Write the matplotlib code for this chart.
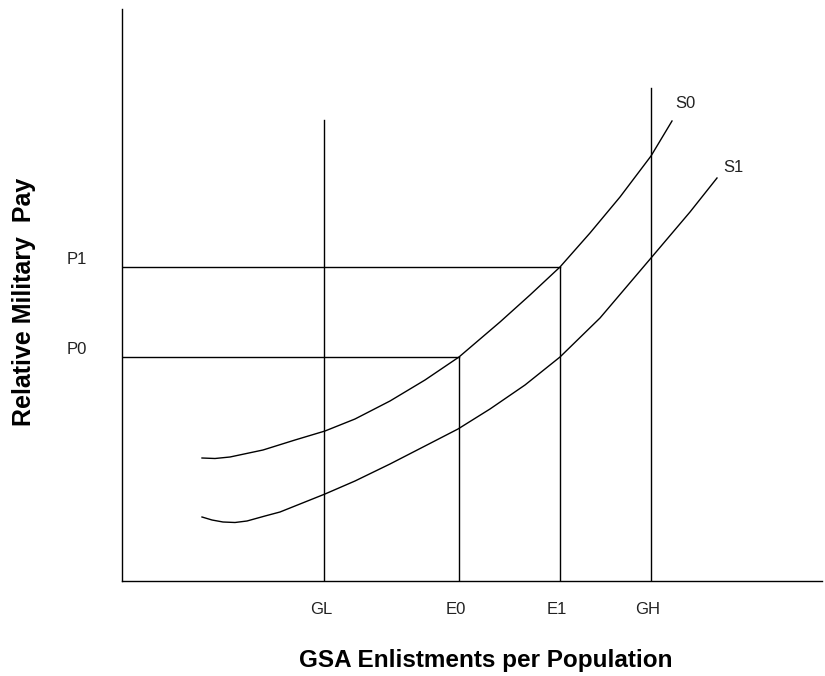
import matplotlib
matplotlib.use("Agg")
import matplotlib.pyplot as plt

plt.rcParams["font.family"] = ["Liberation Sans", "DejaVu Sans"]

# supply curves (x = enlistments, y = relative pay), arbitrary units
s0_x = [80, 93, 108, 141, 173, 203, 233, 268, 303, 337, 378, 408, 438, 468, 498, 529, 550]
s0_y = [123, 122.5, 124, 131, 141, 150, 162, 180, 201, 224, 259, 286, 314, 348, 384, 425, 460]
s1_x = [80, 90, 101, 113, 125, 143, 158, 178, 203, 233, 268, 303, 336, 368, 403, 438, 478, 529, 568, 595]
s1_y = [64, 61, 59, 58.5, 60, 65, 69, 77, 87, 100, 117, 135, 152, 172, 196, 224, 263, 323, 369, 403]

# reference levels
vlines_x = [202, 337, 438, 529]
vlines_top = [461, 224, 314, 493]
x_labels = ["GL", "E0", "E1", "GH"]
p_levels = [314, 224]
p_ends = [438, 337]
p_labels = ["P1", "P0"]

fig = plt.figure(figsize=(8.25, 6.76), dpi=100)
ax = fig.add_axes([122 / 825, 95 / 676, 700 / 825, 572 / 676])
ax.set_xlim(0, 700)
ax.set_ylim(0, 572)

ax.plot(s0_x, s0_y, color="black", lw=1.0, solid_joinstyle="round")
ax.plot(s1_x, s1_y, color="black", lw=1.0, solid_joinstyle="round")

for x, top in zip(vlines_x, vlines_top):
    ax.plot([x, x], [0, top], color="black", lw=1.0)
for y, end in zip(p_levels, p_ends):
    ax.plot([0, end], [y, y], color="black", lw=1.0)

for x, lab in zip(vlines_x, x_labels):
    ax.text(x - 3, -28, lab, ha="center", va="center", fontsize=12, color="#222222")
for y, lab in zip(p_levels, p_labels):
    ax.text(-45, y + 8, lab, ha="center", va="center", fontsize=12, color="#222222")

ax.text(s0_x[-1] + 13, s0_y[-1] + 17, "S0", ha="center", va="center", fontsize=12, color="#222222")
ax.text(s1_x[-1] + 16, s1_y[-1] + 10, "S1", ha="center", va="center", fontsize=12, color="#222222")

for side in ["top", "right"]:
    ax.spines[side].set_visible(False)
for side in ["left", "bottom"]:
    ax.spines[side].set_linewidth(1.0)
ax.set_xticks([])
ax.set_yticks([])

fig.text(486 / 825, 1 - 667 / 676, "GSA Enlistments per Population",
         ha="center", va="baseline", fontsize=17.5, fontweight="bold")
fig.text(24 / 825, 1 - 302 / 676, "Relative Military  Pay", rotation=90,
         ha="center", va="center", fontsize=18, fontweight="bold")

fig.savefig("out.png", dpi=100)
